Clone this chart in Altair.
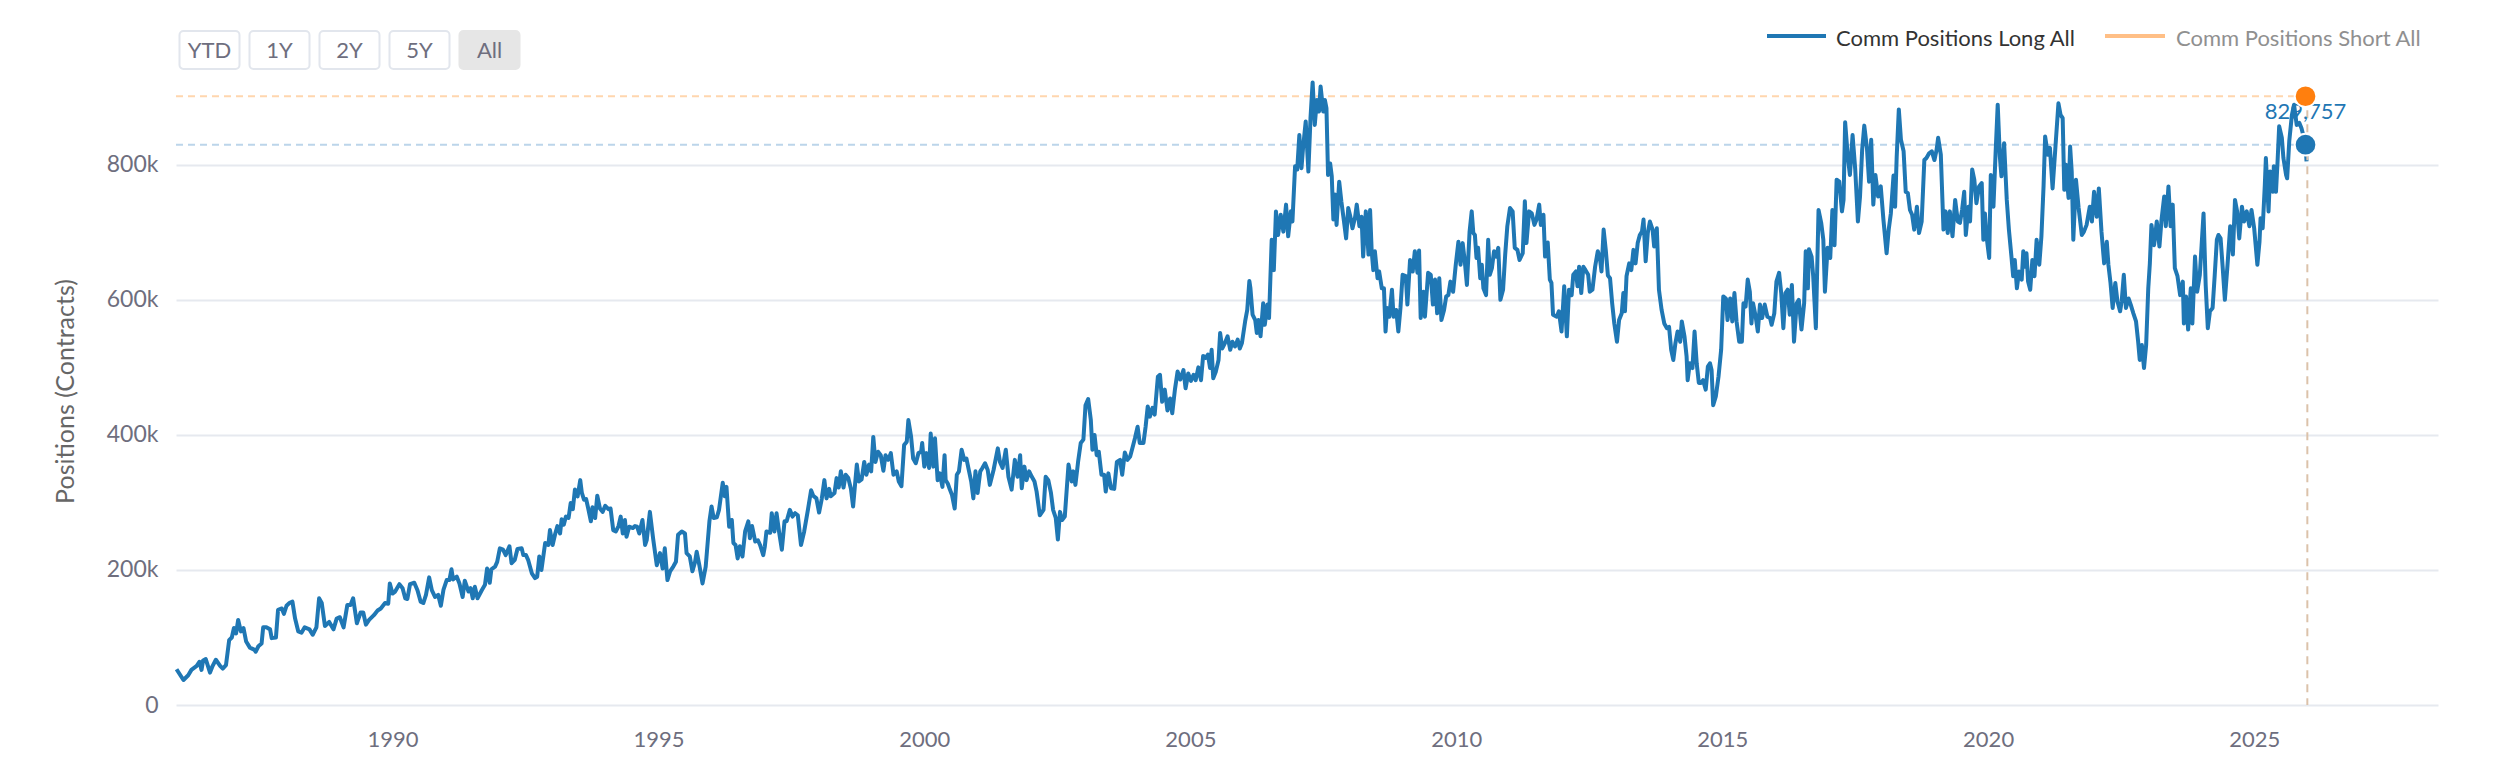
import altair as alt
import pandas as pd

# ---- Comm Positions Long All (decimal year, thousands of contracts) ----
long_1986_1991 = [(1985.94,53),(1986.07,37),(1986.16,44),(1986.22,52),(1986.32,58),(1986.37,64),(1986.41,52),(1986.44,66),(1986.49,68),(1986.57,48),(1986.62,58),(1986.68,67),(1986.76,58),(1986.81,54),(1986.87,59),(1986.93,96),(1986.98,100),(1987.02,114),(1987.06,106),(1987.10,126),(1987.15,109),(1987.20,114),(1987.25,94),(1987.32,85),(1987.40,82),(1987.43,79),(1987.48,87),(1987.54,91),(1987.57,115),(1987.63,115),(1987.70,112),(1987.73,99),(1987.81,100),(1987.85,141),(1987.92,143),(1987.96,135),(1988.01,147),(1988.06,151),(1988.12,153),(1988.17,128),(1988.23,109),(1988.29,107),(1988.35,115),(1988.44,112),(1988.50,104),(1988.57,115),(1988.62,158),(1988.67,151),(1988.73,117),(1988.81,123),(1988.89,112),(1988.95,128),(1989.01,130),(1989.08,115),(1989.15,148),(1989.21,148),(1989.26,158),(1989.33,121),(1989.40,137),(1989.45,137),(1989.50,119),(1989.56,126),(1989.65,133),(1989.72,140),(1989.78,143),(1989.86,151),(1989.92,150),(1989.95,180),(1990.00,165),(1990.05,168),(1990.13,179),(1990.19,173),(1990.24,158),(1990.28,157),(1990.33,179),(1990.41,181),(1990.47,170),(1990.53,153),(1990.58,151),(1990.63,163),(1990.69,189),(1990.74,170),(1990.80,160),(1990.86,163),(1990.91,147),(1990.96,171),(1991.02,185),(1991.07,185),(1991.11,201)]

long_1991_1996 = [(1991.14,186),(1991.21,190),(1991.26,180),(1991.32,160),(1991.36,184),(1991.43,168),(1991.47,173),(1991.51,158),(1991.55,175),(1991.60,158),(1991.68,170),(1991.74,178),(1991.78,202),(1991.83,181),(1991.86,201),(1991.93,205),(1991.97,212),(1992.02,232),(1992.08,230),(1992.13,222),(1992.20,235),(1992.24,210),(1992.30,215),(1992.35,231),(1992.43,232),(1992.46,222),(1992.51,222),(1992.55,215),(1992.62,195),(1992.68,188),(1992.72,190),(1992.76,220),(1992.80,200),(1992.87,240),(1992.93,237),(1992.96,259),(1993.01,237),(1993.06,254),(1993.10,265),(1993.15,254),(1993.18,275),(1993.22,267),(1993.26,279),(1993.31,277),(1993.35,299),(1993.39,290),(1993.43,319),(1993.48,309),(1993.53,333),(1993.56,314),(1993.60,304),(1993.64,305),(1993.68,291),(1993.73,272),(1993.76,293),(1993.81,277),(1993.85,310),(1993.90,291),(1993.95,286),(1994.00,295),(1994.06,290),(1994.10,291),(1994.15,259),(1994.20,257),(1994.25,265),(1994.29,279),(1994.33,254),(1994.37,274),(1994.40,249),(1994.45,264),(1994.52,262),(1994.56,265),(1994.60,264),(1994.64,254),(1994.70,274),(1994.75,237),(1994.78,244),(1994.84,286),(1994.90,247),(1994.97,207),(1995.03,225),(1995.08,202),(1995.12,232),(1995.17,185),(1995.22,198),(1995.28,205),(1995.33,212),(1995.37,252),(1995.44,257),(1995.50,254),(1995.53,225),(1995.59,220),(1995.64,198),(1995.69,212),(1995.72,227),(1995.77,207),(1995.83,180),(1995.89,205),(1995.96,272),(1996.00,294),(1996.04,277),(1996.10,278),(1996.14,289),(1996.21,329),(1996.25,309)]

long_1996_2001 = [(1996.28,323),(1996.33,264),(1996.38,274),(1996.41,240),(1996.45,237),(1996.49,217),(1996.53,235),(1996.58,220),(1996.63,257),(1996.69,272),(1996.72,247),(1996.76,265),(1996.82,242),(1996.87,244),(1996.91,237),(1996.97,222),(1997.00,235),(1997.03,257),(1997.10,255),(1997.13,284),(1997.18,257),(1997.22,284),(1997.27,255),(1997.32,230),(1997.37,272),(1997.41,272),(1997.47,289),(1997.52,279),(1997.57,284),(1997.62,281),(1997.68,237),(1997.74,257),(1997.81,289),(1997.87,318),(1997.91,310),(1997.97,306),(1998.02,285),(1998.07,305),(1998.12,333),(1998.16,306),(1998.21,320),(1998.24,309),(1998.31,314),(1998.35,336),(1998.39,322),(1998.43,346),(1998.48,322),(1998.52,341),(1998.57,336),(1998.62,320),(1998.66,294),(1998.73,356),(1998.77,331),(1998.82,334),(1998.87,360),(1998.91,341),(1998.96,356),(1999.00,346),(1999.04,397),(1999.08,360),(1999.13,375),(1999.18,370),(1999.23,347),(1999.27,370),(1999.32,363),(1999.37,373),(1999.42,341),(1999.48,346),(1999.52,331),(1999.57,324),(1999.62,385),(1999.67,390),(1999.70,422),(1999.75,398),(1999.79,365),(1999.84,358),(1999.89,373),(1999.94,375),(1999.96,388),(2000.00,353),(2000.04,373),(2000.09,351),(2000.12,402),(2000.17,353),(2000.20,395),(2000.25,333),(2000.29,343),(2000.34,323),(2000.38,370),(2000.40,333),(2000.44,328),(2000.48,319),(2000.52,311),(2000.57,291),(2000.61,341),(2000.65,346),(2000.70,378),(2000.75,363),(2000.79,365),(2000.84,346),(2000.88,331),(2000.92,306),(2000.96,346),(2001.00,314),(2001.05,346),(2001.09,351),(2001.14,358),(2001.19,348)]

long_2001_2006 = [(2001.23,326),(2001.30,348),(2001.38,380),(2001.42,360),(2001.47,351),(2001.53,378),(2001.58,338),(2001.64,319),(2001.70,363),(2001.75,338),(2001.80,370),(2001.83,321),(2001.88,353),(2001.92,333),(2001.97,346),(2002.02,338),(2002.07,331),(2002.11,316),(2002.17,281),(2002.24,289),(2002.28,338),(2002.33,333),(2002.38,314),(2002.42,289),(2002.47,277),(2002.51,245),(2002.55,286),(2002.59,274),(2002.64,279),(2002.71,356),(2002.77,331),(2002.80,346),(2002.84,326),(2002.89,360),(2002.94,388),(2002.99,393),(2003.03,444),(2003.08,453),(2003.13,422),(2003.16,378),(2003.20,400),(2003.24,370),(2003.28,375),(2003.33,341),(2003.38,341),(2003.41,316),(2003.46,343),(2003.51,321),(2003.57,320),(2003.62,360),(2003.68,363),(2003.72,341),(2003.77,374),(2003.82,363),(2003.87,368),(2003.91,380),(2003.96,395),(2004.01,412),(2004.05,388),(2004.12,388),(2004.16,412),(2004.20,442),(2004.24,427),(2004.29,440),(2004.33,430),(2004.39,486),(2004.43,489),(2004.47,449),(2004.52,467),(2004.57,436),(2004.62,454),(2004.66,432),(2004.71,467),(2004.76,494),(2004.81,482),(2004.87,496),(2004.91,469),(2004.96,491),(2005.01,480),(2005.06,489),(2005.10,481),(2005.15,500),(2005.20,481),(2005.24,517),(2005.29,514),(2005.33,519),(2005.37,499),(2005.40,526),(2005.43,484),(2005.48,494),(2005.53,511),(2005.56,551),(2005.60,528),(2005.65,536),(2005.70,546),(2005.75,526),(2005.79,538),(2005.84,531),(2005.89,541),(2005.93,528),(2005.97,536)]

long_2006_2011 = [(2006.03,568),(2006.07,585),(2006.11,628),(2006.13,617),(2006.17,578),(2006.22,570),(2006.25,551),(2006.28,570),(2006.32,546),(2006.37,595),(2006.40,563),(2006.45,593),(2006.48,573),(2006.53,689),(2006.57,644),(2006.61,731),(2006.65,696),(2006.70,726),(2006.75,701),(2006.80,741),(2006.84,694),(2006.89,731),(2006.92,716),(2006.97,798),(2007.01,793),(2007.05,844),(2007.09,795),(2007.12,825),(2007.17,864),(2007.22,790),(2007.26,869),(2007.30,922),(2007.34,859),(2007.38,896),(2007.42,879),(2007.45,916),(2007.50,879),(2007.53,896),(2007.56,884),(2007.59,785),(2007.63,802),(2007.66,783),(2007.69,719),(2007.72,756),(2007.75,711),(2007.80,775),(2007.84,746),(2007.89,716),(2007.93,691),(2007.97,736),(2008.01,723),(2008.05,706),(2008.10,723),(2008.13,741),(2008.18,709),(2008.22,723),(2008.25,664),(2008.30,731),(2008.35,667),(2008.38,733),(2008.41,672),(2008.44,644),(2008.47,672),(2008.52,632),(2008.55,642),(2008.60,617),(2008.64,617),(2008.67,553),(2008.70,588),(2008.74,575),(2008.79,615),(2008.82,575),(2008.87,585),(2008.91,553),(2008.95,588),(2008.99,637),(2009.05,635),(2009.08,593),(2009.13,659),(2009.18,642),(2009.22,672),(2009.27,640),(2009.30,673),(2009.33,573),(2009.38,612),(2009.41,575),(2009.47,640),(2009.52,637),(2009.56,593),(2009.60,630),(2009.64,580),(2009.68,632),(2009.72,570),(2009.77,585),(2009.81,605),(2009.85,607),(2009.89,627),(2009.94,612),(2009.99,652),(2010.04,686),(2010.08,652),(2010.12,684),(2010.16,657),(2010.20,622),(2010.25,701),(2010.29,731),(2010.32,699),(2010.35,696),(2010.38,662),(2010.41,677),(2010.45,632),(2010.48,652),(2010.51,617),(2010.56,607),(2010.60,689),(2010.63,637),(2010.67,647),(2010.71,672),(2010.75,664),(2010.79,677),(2010.83,600),(2010.88,615),(2010.92,667),(2010.96,709),(2011.01,736),(2011.06,731),(2011.10,677),(2011.15,674),(2011.19,659),(2011.25,669),(2011.29,746)]

long_2011_2016 = [(2011.32,684),(2011.37,731),(2011.42,728),(2011.47,711),(2011.51,719),(2011.56,741),(2011.59,711),(2011.64,726),(2011.67,664),(2011.72,685),(2011.76,630),(2011.79,625),(2011.82,578),(2011.89,575),(2011.93,583),(2011.98,553),(2012.03,620),(2012.08,546),(2012.12,615),(2012.17,607),(2012.20,637),(2012.25,642),(2012.28,620),(2012.31,649),(2012.35,610),(2012.39,649),(2012.43,644),(2012.48,637),(2012.51,612),(2012.56,615),(2012.61,649),(2012.66,672),(2012.70,662),(2012.73,642),(2012.77,704),(2012.81,674),(2012.85,636),(2012.89,632),(2012.93,595),(2012.97,565),(2013.02,538),(2013.06,570),(2013.11,580),(2013.14,610),(2013.17,583),(2013.20,635),(2013.25,654),(2013.29,644),(2013.33,674),(2013.37,654),(2013.41,684),(2013.45,696),(2013.49,701),(2013.52,719),(2013.56,657),(2013.60,699),(2013.64,716),(2013.69,704),(2013.72,679),(2013.77,706),(2013.81,615),(2013.86,585),(2013.91,565),(2013.96,558),(2014.00,560),(2014.04,526),(2014.08,511),(2014.12,536),(2014.16,553),(2014.21,538),(2014.24,568),(2014.29,546),(2014.33,516),(2014.35,481),(2014.39,506),(2014.44,499),(2014.48,553),(2014.52,506),(2014.56,477),(2014.60,477),(2014.64,481),(2014.69,467),(2014.73,501),(2014.77,506),(2014.80,496),(2014.83,444),(2014.88,457),(2014.93,486),(2014.98,526),(2015.02,605),(2015.07,602),(2015.10,570),(2015.15,602),(2015.19,568),(2015.23,610),(2015.27,568),(2015.32,538),(2015.37,538),(2015.40,595),(2015.44,590),(2015.48,630),(2015.52,612),(2015.55,565),(2015.58,595),(2015.63,575),(2015.67,553),(2015.71,593),(2015.75,573),(2015.80,593),(2015.85,575),(2015.90,573),(2015.93,563),(2015.98,580),(2016.02,627),(2016.07,640),(2016.11,610),(2016.15,558),(2016.19,610),(2016.23,615),(2016.27,578)]

long_2016_2021 = [(2016.31,622),(2016.35,538),(2016.40,595),(2016.44,600),(2016.49,556),(2016.54,595),(2016.57,672),(2016.61,617),(2016.63,675),(2016.68,664),(2016.71,635),(2016.76,558),(2016.81,733),(2016.86,714),(2016.90,689),(2016.93,612),(2016.98,677),(2017.03,662),(2017.07,733),(2017.11,681),(2017.15,778),(2017.20,775),(2017.25,731),(2017.28,748),(2017.31,863),(2017.36,812),(2017.40,785),(2017.45,844),(2017.50,793),(2017.55,716),(2017.59,753),(2017.63,822),(2017.67,858),(2017.72,825),(2017.76,775),(2017.80,837),(2017.84,741),(2017.88,785),(2017.93,753),(2017.98,768),(2018.03,719),(2018.09,669),(2018.13,704),(2018.17,728),(2018.22,784),(2018.25,738),(2018.28,812),(2018.32,882),(2018.36,837),(2018.41,820),(2018.45,760),(2018.49,758),(2018.53,733),(2018.57,726),(2018.61,704),(2018.66,738),(2018.70,699),(2018.75,716),(2018.80,807),(2018.84,810),(2018.89,817),(2018.94,820),(2018.99,807),(2019.03,822),(2019.06,840),(2019.11,815),(2019.16,704),(2019.20,731),(2019.24,699),(2019.28,731),(2019.33,694),(2019.38,748),(2019.43,716),(2019.47,714),(2019.51,733),(2019.55,760),(2019.58,696),(2019.63,738),(2019.66,716),(2019.70,793),(2019.74,778),(2019.78,743),(2019.83,768),(2019.88,773),(2019.91,689),(2019.94,728),(2019.97,694),(2020.02,662),(2020.05,785),(2020.10,738),(2020.14,817),(2020.18,889),(2020.22,812),(2020.25,783),(2020.30,832),(2020.35,748),(2020.39,704),(2020.44,662),(2020.47,635),(2020.50,659),(2020.54,617),(2020.58,642),(2020.63,630),(2020.66,672),(2020.69,649),(2020.72,669),(2020.75,627),(2020.79,615),(2020.83,659),(2020.87,635),(2020.91,689),(2020.96,652),(2021.00,694),(2021.04,768),(2021.07,842),(2021.12,815),(2021.16,825),(2021.21,765),(2021.26,822),(2021.32,891)]

long_2021_2026 = [(2021.36,874),(2021.40,869),(2021.43,763),(2021.46,800),(2021.51,751),(2021.54,827),(2021.57,790),(2021.60,689),(2021.65,778),(2021.70,736),(2021.76,696),(2021.80,701),(2021.85,711),(2021.91,738),(2021.95,716),(2021.99,760),(2022.04,723),(2022.08,765),(2022.13,701),(2022.18,654),(2022.23,686),(2022.26,652),(2022.30,625),(2022.34,588),(2022.39,625),(2022.43,598),(2022.48,583),(2022.51,598),(2022.55,637),(2022.59,588),(2022.64,602),(2022.68,593),(2022.73,580),(2022.78,568),(2022.82,538),(2022.85,511),(2022.89,533),(2022.93,499),(2022.97,533),(2023.01,617),(2023.04,654),(2023.07,711),(2023.12,681),(2023.17,716),(2023.22,679),(2023.26,719),(2023.31,753),(2023.34,709),(2023.39,768),(2023.43,709),(2023.47,741),(2023.51,647),(2023.56,635),(2023.61,607),(2023.66,627),(2023.68,565),(2023.72,605),(2023.76,556),(2023.81,617),(2023.84,565),(2023.89,664),(2023.93,612),(2023.98,637),(2024.05,728),(2024.09,622),(2024.13,558),(2024.17,583),(2024.22,588),(2024.26,637),(2024.30,689),(2024.33,696),(2024.37,691),(2024.41,647),(2024.45,600),(2024.50,652),(2024.55,709),(2024.60,667),(2024.64,748),(2024.68,731),(2024.72,691),(2024.77,738),(2024.81,716),(2024.86,731),(2024.91,709),(2024.95,733),(2025.00,706),(2025.06,652),(2025.10,686),(2025.12,721),(2025.16,706),(2025.20,770),(2025.22,810),(2025.27,731),(2025.30,790),(2025.35,760),(2025.37,798),(2025.41,760),(2025.44,805),(2025.47,857),(2025.52,840),(2025.55,810),(2025.60,785),(2025.62,780),(2025.66,835),(2025.71,874),(2025.75,889),(2025.80,859),(2025.85,862),(2025.89,854),(2025.93,842),(2025.966,829.757),(2025.985,805)]

# ---- highlighted (hovered) point ----
highlight_year = 2025.966
highlight_long = 829757
highlight_short = 901500
crosshair_year = 2026.0

series_names = ["Comm Positions Long All", "Comm Positions Short All"]
x_domain_years = [1985.93, 2028.457]
year_ticks = [1990, 1995, 2000, 2005, 2010, 2015, 2020, 2025]
y_ticks = [0, 200000, 400000, 600000, 800000]
y_max = 930000
buttons = ["YTD", "1Y", "2Y", "5Y", "All"]

BLUE = "#1f77b4"
ORANGE = "#ff7f0e"
FONT = "Lato"
GREY = "#6e6e7e"


def dec_to_ms(d):
    y = int(d)
    start = pd.Timestamp(year=y, month=1, day=1)
    end = pd.Timestamp(year=y + 1, month=1, day=1)
    ts = start + (end - start) * (d - y)
    return int(ts.value // 1_000_000)


pts = (long_1986_1991 + long_1991_1996 + long_1996_2001 + long_2001_2006
       + long_2006_2011 + long_2011_2016 + long_2016_2021 + long_2021_2026)
df = pd.DataFrame({"t": [dec_to_ms(p[0]) for p in pts],
                   "v": [p[1] * 1000 for p in pts]})

x_min = dec_to_ms(x_domain_years[0])
x_max = dec_to_ms(x_domain_years[1])
hl_t = dec_to_ms(highlight_year)

W, H = 2262, 628

xscale = alt.Scale(type="utc", domain=[x_min, x_max], nice=False)
yscale = alt.Scale(domain=[0, y_max], nice=False, zero=True)

xaxis = alt.Axis(values=[dec_to_ms(y) for y in year_ticks],
                 labelExpr="utcFormat(datum.value, '%Y')",
                 grid=False, domain=False, ticks=False, title=None,
                 labelFont=FONT, labelFontSize=22, labelColor=GREY,
                 labelPadding=24, labelBaseline="top", labelFlush=False)
yaxis = alt.Axis(values=y_ticks,
                 labelExpr="datum.value == 0 ? '0' : format(datum.value / 1000, 'd') + 'k'",
                 grid=True, gridColor="#e6e9ef", gridWidth=2,
                 domain=False, ticks=False,
                 labelFont=FONT, labelFontSize=23, labelColor=GREY,
                 labelPadding=18, labelBaseline="middle",
                 title="Positions (Contracts)", titleFont=FONT, titleFontSize=25,
                 titleFontWeight="normal", titleColor="#666666",
                 titleX=-111, titleY=H / 2, titleAngle=270,
                 titleAlign="center", titleBaseline="middle")

X = alt.X("t:T", scale=xscale, axis=xaxis)
Y = alt.Y("v:Q", scale=yscale, axis=yaxis)

hl = pd.DataFrame({
    "series": series_names,
    "t0": [x_min, x_min],
    "t": [hl_t, hl_t],
    "v": [highlight_long, highlight_short],
    "label": [f"{highlight_long:,}", f"{highlight_short:,}"],
})
hl_long = hl[hl.series == series_names[0]]
hl_short = hl[hl.series == series_names[1]]

dash_short = alt.Chart(hl_short).mark_rule(color="#ffd6ae", strokeWidth=2, strokeDash=[7, 5]).encode(
    x=alt.X("t0:T", scale=xscale, axis=xaxis), x2="t:T", y=Y)
dash_long = alt.Chart(hl_long).mark_rule(color="#bcd5ea", strokeWidth=2, strokeDash=[7, 5]).encode(
    x=alt.X("t0:T", scale=xscale, axis=xaxis), x2="t:T", y=Y)

line = alt.Chart(df).mark_line(color=BLUE, strokeWidth=4, strokeJoin="round").encode(x=X, y=Y)

cross_df = pd.DataFrame({"t": [dec_to_ms(crosshair_year)], "v": [highlight_short], "v0": [0]})
crosshair = alt.Chart(cross_df).mark_rule(color="#dcc2aa", strokeWidth=2, strokeDash=[8, 6]).encode(
    x=X, y=Y, y2="v0:Q")

label = alt.Chart(hl_long).mark_text(font=FONT, fontSize=22, color=BLUE, dy=-26,
                                     baseline="alphabetic", align="center").encode(
    x=X, y=Y, text="label:N")

dot_short = alt.Chart(hl_short).mark_circle(size=470, color=ORANGE, opacity=1,
                                            stroke="white", strokeWidth=2).encode(x=X, y=Y)
dot_long = alt.Chart(hl_long).mark_circle(size=470, color=BLUE, opacity=1,
                                          stroke="white", strokeWidth=2).encode(x=X, y=Y)

one = pd.DataFrame({"a": [0]})

# range selector buttons (decoration above the plot)
deco = []
for i, b in enumerate(buttons):
    x0 = 3.5 + i * 70
    sel = b == "All"
    deco.append(alt.Chart(one).mark_rect(
        fill="#e6e6e6" if sel else "white",
        stroke="#e6e6e6" if sel else "#e2e6ed",
        strokeWidth=2, cornerRadius=4).encode(
        x=alt.value(x0), x2=alt.value(x0 + 60), y=alt.value(-46), y2=alt.value(-8)))
    deco.append(alt.Chart(one).mark_text(
        text=b, font=FONT, fontSize=22, color="#6e6e7e", align="center",
        baseline="alphabetic").encode(x=alt.value(x0 + 30), y=alt.value(-19)))

# legend
deco.append(alt.Chart(one).mark_rule(color=BLUE, strokeWidth=4).encode(
    x=alt.value(1591), x2=alt.value(1650), y=alt.value(-41)))
deco.append(alt.Chart(one).mark_text(text=series_names[0], font=FONT, fontSize=22,
                                     color="#333333", align="left", baseline="alphabetic").encode(
    x=alt.value(1660), y=alt.value(-31)))
deco.append(alt.Chart(one).mark_rule(color="#ffbf86", strokeWidth=4).encode(
    x=alt.value(1929), x2=alt.value(1989), y=alt.value(-41)))
deco.append(alt.Chart(one).mark_text(text=series_names[1], font=FONT, fontSize=22,
                                     color="#909090", align="left", baseline="alphabetic").encode(
    x=alt.value(2000), y=alt.value(-31)))

chart = alt.layer(
    dash_short, dash_long, line, crosshair, label, dot_short, dot_long, *deco
).properties(
    width=W, height=H,
    autosize=alt.AutoSizeParams(type="none"),
    padding={"left": 168, "top": 69, "right": 66, "bottom": 50},
    background="white",
).configure_view(stroke=None)

chart.save("out.html", embed_options={"renderer": "svg", "actions": False})
